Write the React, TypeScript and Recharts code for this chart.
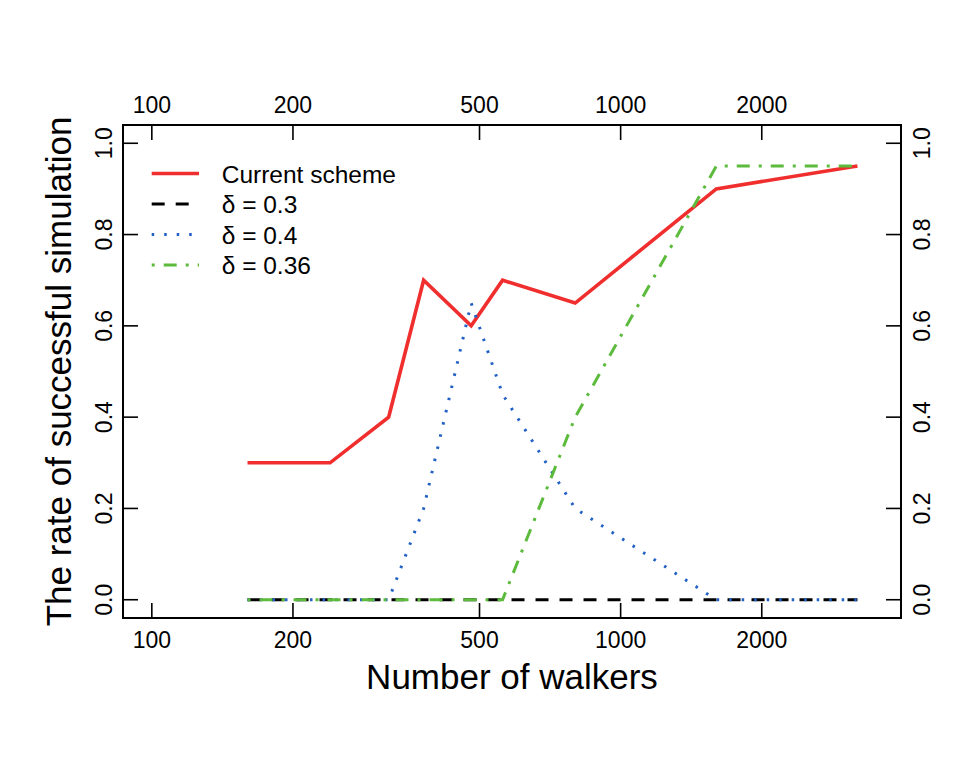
import React from 'react';
import { LineChart, Line, XAxis, YAxis, Legend } from 'recharts';

// values
const walkers = [160, 240, 320, 380, 480, 560, 800, 1600, 3200];
const currentScheme = [0.3, 0.3, 0.4, 0.7, 0.6, 0.7, 0.65, 0.9, 0.95];
const delta03 = [0, 0, 0, 0, 0, 0, 0, 0, 0];
const delta04 = [0, 0, 0, 0.2, 0.65, 0.45, 0.2, 0, 0];
const delta036 = [0, 0, 0, 0, 0, 0, 0.4, 0.95, 0.95];

const xTicks = [100, 200, 500, 1000, 2000];
const yTicks = [0, 0.2, 0.4, 0.6, 0.8, 1.0];

const data = walkers.map((n, i) => ({
  n,
  current: currentScheme[i],
  d03: delta03[i],
  d04: delta04[i],
  d036: delta036[i]
}));

const series = [
  { key: 'current', name: 'Current scheme', color: '#f02e2e', width: 3.6, dash: undefined },
  { key: 'd03', name: 'δ = 0.3', color: '#000000', width: 3, dash: '13 11' },
  { key: 'd04', name: 'δ = 0.4', color: '#2160c4', width: 3, dash: '2.5 10' },
  { key: 'd036', name: 'δ = 0.36', color: '#5cbb3c', width: 3, dash: '3 9 13 9' }
];

const FONT = '"Liberation Sans", Arial, Helvetica, sans-serif';
const X_DOMAIN = [86.8, 3963];
const Y_DOMAIN = [-0.04, 1.04];
const TICK_LEN = 15;
const axisLine = { stroke: '#000', strokeWidth: 2, strokeLinecap: 'square' as const };

const BottomTick = ({ x, y, payload }: any) => (
  <g>
    <line x1={x} x2={x} y1={y} y2={y - TICK_LEN} stroke="#000" strokeWidth={1.6} />
    <text x={x} y={y + 30} textAnchor="middle" fontSize={23} fontFamily={FONT} fill="#000">
      {payload.value}
    </text>
  </g>
);

const TopTick = ({ x, y, payload }: any) => (
  <g>
    <line x1={x} x2={x} y1={y} y2={y + TICK_LEN} stroke="#000" strokeWidth={1.6} />
    <text x={x} y={y - 12} textAnchor="middle" fontSize={23} fontFamily={FONT} fill="#000">
      {payload.value}
    </text>
  </g>
);

const LeftTick = ({ x, y, payload }: any) => {
  const bx = x - 11;
  return (
    <g>
      <line x1={x} x2={x + TICK_LEN} y1={y} y2={y} stroke="#000" strokeWidth={1.6} />
      <text
        x={bx}
        y={y}
        transform={`rotate(-90, ${bx}, ${y})`}
        textAnchor="middle"
        fontSize={23}
        fontFamily={FONT}
        fill="#000"
      >
        {Number(payload.value).toFixed(1)}
      </text>
    </g>
  );
};

const RightTick = ({ x, y, payload }: any) => {
  const bx = x + 29;
  return (
    <g>
      <line x1={x} x2={x - TICK_LEN} y1={y} y2={y} stroke="#000" strokeWidth={1.6} />
      <text
        x={bx}
        y={y}
        transform={`rotate(-90, ${bx}, ${y})`}
        textAnchor="middle"
        fontSize={23}
        fontFamily={FONT}
        fill="#000"
      >
        {Number(payload.value).toFixed(1)}
      </text>
    </g>
  );
};

const XTitle = ({ viewBox }: any) => (
  <text
    x={viewBox.x + viewBox.width / 2}
    y={viewBox.y + 71}
    textAnchor="middle"
    fontSize={35}
    fontFamily={FONT}
    fill="#000"
  >
    Number of walkers
  </text>
);

const YTitle = ({ viewBox }: any) => {
  const bx = 70.5;
  const cy = viewBox.y + viewBox.height / 2;
  return (
    <text
      x={bx}
      y={cy}
      transform={`rotate(-90, ${bx}, ${cy})`}
      textAnchor="middle"
      fontSize={35}
      fontFamily={FONT}
      fill="#000"
    >
      The rate of successful simulation
    </text>
  );
};

// legend drawn in the same order as the series (recharts sorts its payload by name)
const LegendContent = () => (
  <svg width={300} height={130} style={{ display: 'block' }}>
    {series.map((s, i) => {
      const cy = 23.5 + i * 30.5;
      return (
        <g key={s.key}>
          <line
            x1={11.7}
            x2={59}
            y1={cy}
            y2={cy}
            stroke={s.color}
            strokeWidth={s.width}
            strokeDasharray={s.dash}
          />
          <text x={81.7} y={cy + 9} fontSize={24.5} fontFamily={FONT} fill="#000">
            {s.name}
          </text>
        </g>
      );
    })}
  </svg>
);

export default function App() {
  return (
    <div style={{ position: 'absolute', left: 0, top: 0, width: 965, height: 771, background: '#fff' }}>
      <LineChart
        width={965}
        height={771}
        data={data}
        margin={{ top: 85, right: 4, bottom: 63, left: 63 }}
      >
        <XAxis
          xAxisId="bottom"
          dataKey="n"
          type="number"
          scale="log"
          domain={X_DOMAIN}
          allowDataOverflow
          ticks={xTicks}
          interval={0}
          height={90}
          tickSize={0}
          tickMargin={0}
          tickLine={false}
          axisLine={axisLine}
          tick={<BottomTick />}
          label={XTitle}
        />
        <XAxis
          xAxisId="top"
          orientation="top"
          dataKey="n"
          type="number"
          scale="log"
          domain={X_DOMAIN}
          allowDataOverflow
          ticks={xTicks}
          interval={0}
          height={40}
          tickSize={0}
          tickMargin={0}
          tickLine={false}
          axisLine={axisLine}
          tick={<TopTick />}
        />
        <YAxis
          yAxisId="left"
          type="number"
          domain={Y_DOMAIN}
          allowDataOverflow
          ticks={yTicks}
          interval={0}
          width={60}
          tickSize={0}
          tickMargin={0}
          tickLine={false}
          axisLine={axisLine}
          tick={<LeftTick />}
          label={YTitle}
        />
        <YAxis
          yAxisId="right"
          orientation="right"
          type="number"
          domain={Y_DOMAIN}
          allowDataOverflow
          ticks={yTicks}
          interval={0}
          width={60}
          tickSize={0}
          tickMargin={0}
          tickLine={false}
          axisLine={axisLine}
          tick={<RightTick />}
        />
        <Legend
          layout="vertical"
          align="center"
          verticalAlign="middle"
          wrapperStyle={{ left: 140, top: 150, width: 300, height: 130 }}
          content={LegendContent}
        />
        {series.map(s => (
          <Line
            key={s.key}
            xAxisId="bottom"
            yAxisId="left"
            type="linear"
            dataKey={s.key}
            name={s.name}
            stroke={s.color}
            strokeWidth={s.width}
            strokeDasharray={s.dash}
            strokeLinejoin="miter"
            dot={false}
            activeDot={false}
            isAnimationActive={false}
          />
        ))}
      </LineChart>
    </div>
  );
}
